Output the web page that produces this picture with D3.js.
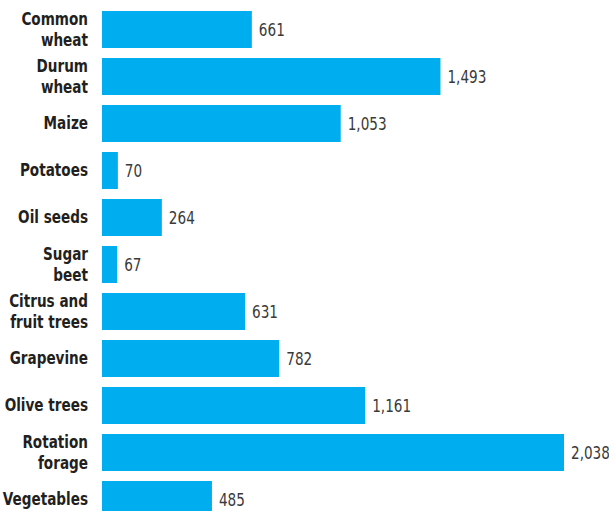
<!DOCTYPE html>
<html>
<head>
<meta charset="utf-8">
<script src="https://cdn.jsdelivr.net/npm/d3@7"></script>
<style>
  body { margin: 0; background: #fff; }
  svg { display: block; }
  .cat { font-family: "DejaVu Sans", sans-serif; font-weight: bold; font-size: 17px; fill: #231f20; }
  .val { font-family: "DejaVu Sans", sans-serif; font-size: 17px; fill: #3a3a3a; }
</style>
</head>
<body>
<div id="chart"></div>
<script>
  // Data
  const categories = [
    ["Common", "wheat"], ["Durum", "wheat"], ["Maize"], ["Potatoes"], ["Oil seeds"],
    ["Sugar", "beet"], ["Citrus and", "fruit trees"], ["Grapevine"], ["Olive trees"],
    ["Rotation", "forage"], ["Vegetables"]
  ];
  const values = [661, 1493, 1053, 70, 264, 67, 631, 782, 1161, 2038, 485];

  const width = 609, height = 511;
  const left = 102;
  const squeeze = 0.8; // fake a condensed face

  const svg = d3.select("#chart").append("svg")
    .attr("width", width)
    .attr("height", height);

  const idx = d3.range(values.length);

  const xScale = d3.scaleLinear()
    .domain([0, 2038])
    .range([left, 564]);

  const yScale = d3.scaleBand()
    .domain(idx)
    .range([6, 6 + 47 * values.length])
    .paddingInner(10 / 47)
    .paddingOuter(5 / 47);

  const fmt = d3.format(",");

  // Bars
  svg.selectAll("rect.bar")
    .data(idx)
    .join("rect")
      .attr("class", "bar")
      .attr("x", xScale(0))
      .attr("y", i => yScale(i))
      .attr("width", i => xScale(values[i]) - xScale(0))
      .attr("height", yScale.bandwidth())
      .attr("fill", "#00aeef");

  // Value labels
  svg.selectAll("g.val")
    .data(idx)
    .join("g")
      .attr("transform", i => `translate(${ xScale(values[i]) + 7 } ${ yScale(i) + yScale.bandwidth() / 2 + 1 }) scale(${ squeeze } 1)`)
    .append("text")
      .attr("class", "val")
      .attr("dy", "0.35em")
      .text(i => fmt(values[i]));

  // Category labels
  const cats = svg.selectAll("g.cat")
    .data(idx)
    .join("g")
      .attr("transform", i => `translate(88 ${ yScale(i) + yScale.bandwidth() / 2 }) scale(${ squeeze } 1)`)
    .append("text")
      .attr("class", "cat")
      .attr("text-anchor", "end");

  cats.selectAll("tspan")
    .data(i => categories[i].map((t, k) => ({ t, k, n: categories[i].length })))
    .join("tspan")
      .attr("x", 0)
      .attr("dy", d => d.k === 0 ? (d.n === 1 ? "0.35em" : "-0.25em") : "1.2em")
      .text(d => d.t);
</script>
</body>
</html>
